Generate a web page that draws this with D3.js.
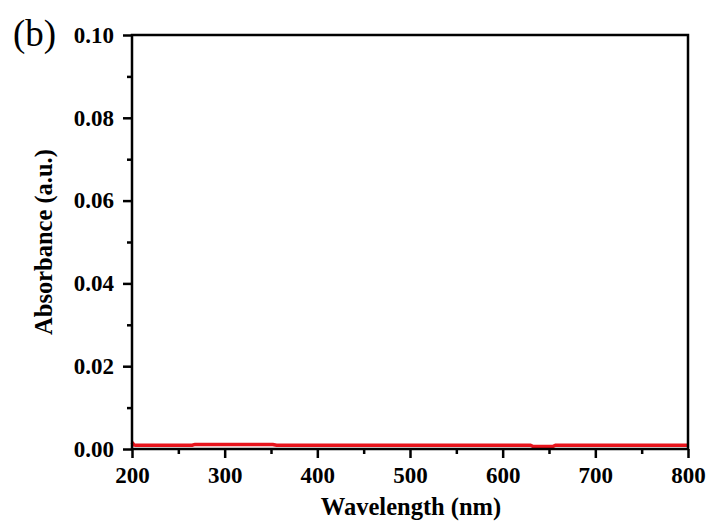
<!DOCTYPE html>
<html>
<head>
<meta charset="utf-8">
<script src="https://cdn.jsdelivr.net/npm/d3@7"></script>
<style>
  html, body { margin: 0; padding: 0; background: #fff; }
  svg { display: block; }
  text { font-family: "Liberation Serif", "Times New Roman", serif; }
</style>
</head>
<body>
<div id="chart"></div>
<script>
// Data
const wavelength = [200, 202, 204, 265, 268, 352, 356, 630, 633, 654, 657, 800];
const absorbance = [0.0016, 0.0010, 0.0009, 0.0009, 0.0011, 0.0011, 0.0009, 0.0009, 0.0006, 0.0006, 0.0009, 0.0009];
const xTicks = [200, 300, 400, 500, 600, 700, 800];
const yTicks = [0.00, 0.02, 0.04, 0.06, 0.08, 0.10];
const xMinorTicks = [250, 350, 450, 550, 650, 750];
const yMinorTicks = [0.01, 0.03, 0.05, 0.07, 0.09];

const W = 710, H = 521;
const margin = { left: 132, right: 22, top: 35, bottom: 72 };

const svg = d3.select("#chart").append("svg").attr("width", W).attr("height", H);

const x = d3.scaleLinear().domain([200, 800]).range([margin.left, W - margin.right]);
const y = d3.scaleLinear().domain([0, 0.10]).range([H - margin.bottom, margin.top]);

// Data line
const data = wavelength.map((w, i) => ({ w, a: absorbance[i] }));
svg.append("path")
  .datum(data)
  .attr("fill", "none")
  .attr("stroke", "#e8141c")
  .attr("stroke-width", 3.5)
  .attr("d", d3.line().x(d => x(d.w)).y(d => y(d.a)));

// Frame
svg.append("rect")
  .attr("x", x(200)).attr("y", y(0.10))
  .attr("width", x(800) - x(200)).attr("height", y(0) - y(0.10))
  .attr("fill", "none").attr("stroke", "#000").attr("stroke-width", 2.5);

const FS = 23;

// Bottom axis
const xAxis = svg.append("g").attr("transform", `translate(0,${y(0)})`)
  .call(d3.axisBottom(x).tickValues(xTicks).tickFormat(d3.format("d")).tickSize(9).tickPadding(9));
xAxis.select(".domain").remove();
xAxis.selectAll(".tick line").attr("stroke", "#000").attr("stroke-width", 2.5);
xAxis.selectAll("text").attr("font-size", FS).attr("font-weight", "bold").attr("fill", "#000")
  .attr("font-family", "Liberation Serif");
const xMinor = svg.append("g").attr("transform", `translate(0,${y(0)})`)
  .call(d3.axisBottom(x).tickValues(xMinorTicks).tickFormat("").tickSize(5));
xMinor.select(".domain").remove();
xMinor.selectAll(".tick line").attr("stroke", "#000").attr("stroke-width", 2.5);

// Left axis
const yAxis = svg.append("g").attr("transform", `translate(${x(200)},0)`)
  .call(d3.axisLeft(y).tickValues(yTicks).tickFormat(d3.format(".2f")).tickSize(9).tickPadding(9));
yAxis.select(".domain").remove();
yAxis.selectAll(".tick line").attr("stroke", "#000").attr("stroke-width", 2.5);
yAxis.selectAll("text").attr("font-size", FS).attr("font-weight", "bold").attr("fill", "#000")
  .attr("font-family", "Liberation Serif");
const yMinor = svg.append("g").attr("transform", `translate(${x(200)},0)`)
  .call(d3.axisLeft(y).tickValues(yMinorTicks).tickFormat("").tickSize(5));
yMinor.select(".domain").remove();
yMinor.selectAll(".tick line").attr("stroke", "#000").attr("stroke-width", 2.5);

// Axis titles
svg.append("text")
  .attr("x", 411).attr("y", 515)
  .attr("text-anchor", "middle").attr("font-size", 24.5).attr("font-weight", "bold")
  .text("Wavelength (nm)");
svg.append("text")
  .attr("transform", `translate(52,${(y(0) + y(0.10)) / 2}) rotate(-90)`)
  .attr("text-anchor", "middle").attr("font-size", 24.5).attr("font-weight", "bold")
  .text("Absorbance (a.u.)");

// Panel label
svg.append("text")
  .attr("x", 13).attr("y", 46)
  .attr("font-size", 37)
  .text("(b)");
</script>
</body>
</html>
